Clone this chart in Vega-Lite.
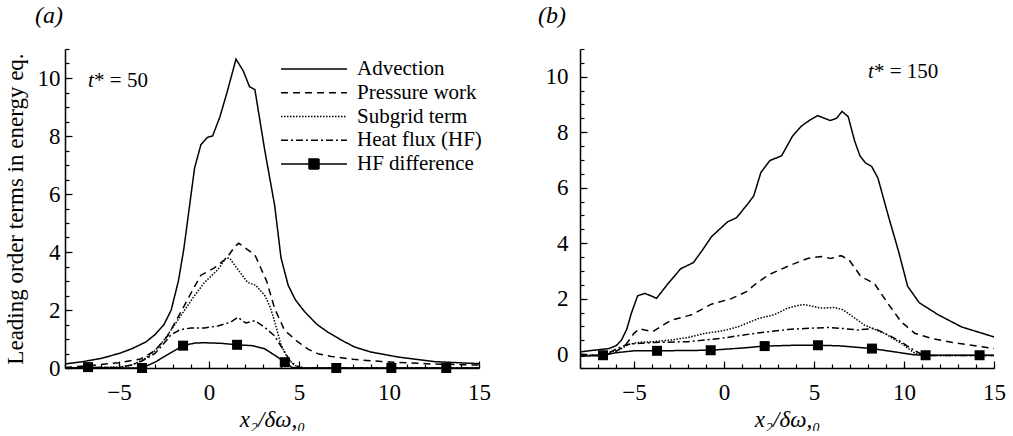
{
  "$schema": "https://vega.github.io/schema/vega-lite/v6.json",
  "background": "white",
  "padding": {"left": 4, "top": 4, "right": 0, "bottom": 0},
  "spacing": 47,
  "config": {
    "view": {"stroke": null},
    "font": "Liberation Serif",
    "axis": {
      "grid": false,
      "domainColor": "black",
      "domainWidth": 1.5,
      "tickColor": "black",
      "tickWidth": 1.2,
      "labelFont": "Liberation Serif",
      "labelFontSize": 23,
      "labelColor": "black",
      "labelFlush": false,
      "titleFont": "Liberation Serif",
      "titleFontSize": 23,
      "titleFontWeight": "normal",
      "titleColor": "black"
    },
    "title": {"font": "Liberation Serif", "fontSize": 24, "fontStyle": "italic", "fontWeight": "normal", "color": "black", "anchor": "start", "frame": "group"}
  },
  "resolve": {"scale": {"strokeDash": "independent"}, "legend": {"strokeDash": "independent"}},
  "datasets": {
    "a": [
      {"s":"Advection","x":-8,"y":0.14},{"s":"Advection","x":-7,"y":0.22},{"s":"Advection","x":-6,"y":0.33},{"s":"Advection","x":-5,"y":0.5},{"s":"Advection","x":-4.3,"y":0.66},{"s":"Advection","x":-3.5,"y":0.9},{"s":"Advection","x":-3,"y":1.15},{"s":"Advection","x":-2.5,"y":1.5},{"s":"Advection","x":-2.1,"y":2.0},{"s":"Advection","x":-1.7,"y":3.0},{"s":"Advection","x":-1.4,"y":4.1},{"s":"Advection","x":-1.1,"y":5.5},{"s":"Advection","x":-0.8,"y":6.9},{"s":"Advection","x":-0.45,"y":7.7},{"s":"Advection","x":-0.1,"y":7.95},{"s":"Advection","x":0.2,"y":8.0},{"s":"Advection","x":0.6,"y":8.65},{"s":"Advection","x":1.0,"y":9.5},{"s":"Advection","x":1.5,"y":10.65},{"s":"Advection","x":1.9,"y":10.25},{"s":"Advection","x":2.25,"y":9.7},{"s":"Advection","x":2.55,"y":9.6},{"s":"Advection","x":3.1,"y":7.5},{"s":"Advection","x":3.65,"y":5.6},{"s":"Advection","x":4.0,"y":3.8},{"s":"Advection","x":4.4,"y":2.85},{"s":"Advection","x":4.8,"y":2.35},{"s":"Advection","x":5.3,"y":1.95},{"s":"Advection","x":6.0,"y":1.5},{"s":"Advection","x":6.6,"y":1.24},{"s":"Advection","x":7.3,"y":0.98},{"s":"Advection","x":8.1,"y":0.72},{"s":"Advection","x":9.0,"y":0.55},{"s":"Advection","x":10.5,"y":0.38},{"s":"Advection","x":12.5,"y":0.22},{"s":"Advection","x":15,"y":0.15},
      {"s":"Pressure work","x":-8,"y":0.02},{"s":"Pressure work","x":-6.7,"y":0.08},{"s":"Pressure work","x":-5,"y":0.18},{"s":"Pressure work","x":-3.8,"y":0.31},{"s":"Pressure work","x":-3.0,"y":0.6},{"s":"Pressure work","x":-2.3,"y":1.1},{"s":"Pressure work","x":-1.5,"y":2.0},{"s":"Pressure work","x":-0.9,"y":2.7},{"s":"Pressure work","x":-0.45,"y":3.2},{"s":"Pressure work","x":0.3,"y":3.45},{"s":"Pressure work","x":1.0,"y":3.8},{"s":"Pressure work","x":1.45,"y":4.2},{"s":"Pressure work","x":1.65,"y":4.3},{"s":"Pressure work","x":2.1,"y":4.1},{"s":"Pressure work","x":2.55,"y":3.9},{"s":"Pressure work","x":3.2,"y":3.0},{"s":"Pressure work","x":3.65,"y":2.05},{"s":"Pressure work","x":4.2,"y":1.3},{"s":"Pressure work","x":4.9,"y":0.92},{"s":"Pressure work","x":5.5,"y":0.65},{"s":"Pressure work","x":6.1,"y":0.48},{"s":"Pressure work","x":6.8,"y":0.4},{"s":"Pressure work","x":8,"y":0.3},{"s":"Pressure work","x":9.6,"y":0.22},{"s":"Pressure work","x":12.3,"y":0.14},{"s":"Pressure work","x":15,"y":0.1},
      {"s":"Subgrid term","x":-8,"y":0},{"s":"Subgrid term","x":-5,"y":0.03},{"s":"Subgrid term","x":-4.3,"y":0.1},{"s":"Subgrid term","x":-3.6,"y":0.3},{"s":"Subgrid term","x":-3.0,"y":0.6},{"s":"Subgrid term","x":-2.45,"y":1.0},{"s":"Subgrid term","x":-1.9,"y":1.5},{"s":"Subgrid term","x":-1.35,"y":2.0},{"s":"Subgrid term","x":-0.8,"y":2.5},{"s":"Subgrid term","x":-0.25,"y":2.95},{"s":"Subgrid term","x":0.5,"y":3.4},{"s":"Subgrid term","x":0.95,"y":3.8},{"s":"Subgrid term","x":1.15,"y":3.78},{"s":"Subgrid term","x":1.6,"y":3.4},{"s":"Subgrid term","x":2.15,"y":2.95},{"s":"Subgrid term","x":2.6,"y":2.85},{"s":"Subgrid term","x":3.1,"y":2.5},{"s":"Subgrid term","x":3.4,"y":2.1},{"s":"Subgrid term","x":3.65,"y":1.6},{"s":"Subgrid term","x":4.0,"y":0.8},{"s":"Subgrid term","x":4.4,"y":0.3},{"s":"Subgrid term","x":4.8,"y":0.08},{"s":"Subgrid term","x":5.3,"y":0},{"s":"Subgrid term","x":15,"y":0},
      {"s":"Heat flux (HF)","x":-8,"y":0},{"s":"Heat flux (HF)","x":-5,"y":0.02},{"s":"Heat flux (HF)","x":-4.3,"y":0.1},{"s":"Heat flux (HF)","x":-3.7,"y":0.25},{"s":"Heat flux (HF)","x":-3.0,"y":0.5},{"s":"Heat flux (HF)","x":-2.5,"y":0.85},{"s":"Heat flux (HF)","x":-2.1,"y":1.15},{"s":"Heat flux (HF)","x":-1.6,"y":1.32},{"s":"Heat flux (HF)","x":-1.0,"y":1.38},{"s":"Heat flux (HF)","x":-0.25,"y":1.38},{"s":"Heat flux (HF)","x":0.5,"y":1.45},{"s":"Heat flux (HF)","x":1.2,"y":1.58},{"s":"Heat flux (HF)","x":1.6,"y":1.75},{"s":"Heat flux (HF)","x":2.05,"y":1.55},{"s":"Heat flux (HF)","x":2.55,"y":1.63},{"s":"Heat flux (HF)","x":3.1,"y":1.4},{"s":"Heat flux (HF)","x":3.65,"y":1.1},{"s":"Heat flux (HF)","x":4.2,"y":0.55},{"s":"Heat flux (HF)","x":4.55,"y":0.2},{"s":"Heat flux (HF)","x":5,"y":0.02},{"s":"Heat flux (HF)","x":5.5,"y":0},{"s":"Heat flux (HF)","x":15,"y":0},
      {"s":"HF difference","x":-8,"y":0},{"s":"HF difference","x":-6.72,"y":0.02},{"s":"HF difference","x":-4.5,"y":0},{"s":"HF difference","x":-3.72,"y":0},{"s":"HF difference","x":-3.0,"y":0.2},{"s":"HF difference","x":-2.2,"y":0.5},{"s":"HF difference","x":-1.44,"y":0.77},{"s":"HF difference","x":-0.8,"y":0.86},{"s":"HF difference","x":-0.25,"y":0.87},{"s":"HF difference","x":0.7,"y":0.85},{"s":"HF difference","x":1.56,"y":0.8},{"s":"HF difference","x":2.4,"y":0.77},{"s":"HF difference","x":3.1,"y":0.66},{"s":"HF difference","x":3.8,"y":0.38},{"s":"HF difference","x":4.21,"y":0.2},{"s":"HF difference","x":4.6,"y":0.02},{"s":"HF difference","x":5,"y":0},{"s":"HF difference","x":15,"y":0}
    ],
    "am": [
      {"x":-6.72,"y":0.03},{"x":-3.72,"y":0},{"x":-1.44,"y":0.77},{"x":1.56,"y":0.8},{"x":4.21,"y":0.2},{"x":7.07,"y":0},{"x":10.13,"y":0},{"x":13.18,"y":0}
    ],
    "b": [
      {"s":"Advection","x":-8,"y":0.08},{"s":"Advection","x":-7.5,"y":0.12},{"s":"Advection","x":-6.4,"y":0.2},{"s":"Advection","x":-6.0,"y":0.3},{"s":"Advection","x":-5.7,"y":0.5},{"s":"Advection","x":-5.4,"y":0.9},{"s":"Advection","x":-5.15,"y":1.47},{"s":"Advection","x":-4.8,"y":2.1},{"s":"Advection","x":-4.4,"y":2.19},{"s":"Advection","x":-4.05,"y":2.1},{"s":"Advection","x":-3.75,"y":2.01},{"s":"Advection","x":-3.1,"y":2.55},{"s":"Advection","x":-2.4,"y":3.08},{"s":"Advection","x":-1.7,"y":3.3},{"s":"Advection","x":-1.2,"y":3.75},{"s":"Advection","x":-0.7,"y":4.23},{"s":"Advection","x":0.2,"y":4.77},{"s":"Advection","x":0.7,"y":4.92},{"s":"Advection","x":1.3,"y":5.4},{"s":"Advection","x":1.65,"y":5.7},{"s":"Advection","x":2.05,"y":6.55},{"s":"Advection","x":2.55,"y":6.98},{"s":"Advection","x":3.2,"y":7.15},{"s":"Advection","x":3.8,"y":7.85},{"s":"Advection","x":4.3,"y":8.22},{"s":"Advection","x":4.8,"y":8.45},{"s":"Advection","x":5.2,"y":8.6},{"s":"Advection","x":5.9,"y":8.42},{"s":"Advection","x":6.25,"y":8.5},{"s":"Advection","x":6.56,"y":8.75},{"s":"Advection","x":6.9,"y":8.56},{"s":"Advection","x":7.25,"y":7.7},{"s":"Advection","x":7.55,"y":7.15},{"s":"Advection","x":7.85,"y":6.9},{"s":"Advection","x":8.2,"y":6.77},{"s":"Advection","x":8.55,"y":6.35},{"s":"Advection","x":9.1,"y":5.05},{"s":"Advection","x":9.7,"y":3.7},{"s":"Advection","x":10.2,"y":2.45},{"s":"Advection","x":10.85,"y":1.85},{"s":"Advection","x":11.9,"y":1.42},{"s":"Advection","x":13.2,"y":0.98},{"s":"Advection","x":15,"y":0.62},
      {"s":"Pressure work","x":-8,"y":0},{"s":"Pressure work","x":-7,"y":-0.05},{"s":"Pressure work","x":-6.6,"y":-0.03},{"s":"Pressure work","x":-6,"y":0.1},{"s":"Pressure work","x":-5.5,"y":0.3},{"s":"Pressure work","x":-5.0,"y":0.75},{"s":"Pressure work","x":-4.7,"y":0.92},{"s":"Pressure work","x":-4.4,"y":0.87},{"s":"Pressure work","x":-3.95,"y":0.81},{"s":"Pressure work","x":-3.3,"y":1.08},{"s":"Pressure work","x":-2.9,"y":1.23},{"s":"Pressure work","x":-1.8,"y":1.42},{"s":"Pressure work","x":-0.7,"y":1.8},{"s":"Pressure work","x":0.4,"y":2.0},{"s":"Pressure work","x":1.25,"y":2.25},{"s":"Pressure work","x":1.7,"y":2.5},{"s":"Pressure work","x":2.45,"y":2.85},{"s":"Pressure work","x":3.55,"y":3.17},{"s":"Pressure work","x":4.65,"y":3.45},{"s":"Pressure work","x":5.4,"y":3.52},{"s":"Pressure work","x":5.95,"y":3.45},{"s":"Pressure work","x":6.5,"y":3.55},{"s":"Pressure work","x":6.95,"y":3.4},{"s":"Pressure work","x":7.6,"y":2.8},{"s":"Pressure work","x":8.35,"y":2.55},{"s":"Pressure work","x":9.1,"y":1.83},{"s":"Pressure work","x":9.85,"y":1.16},{"s":"Pressure work","x":10.6,"y":0.75},{"s":"Pressure work","x":11.5,"y":0.57},{"s":"Pressure work","x":12.8,"y":0.41},{"s":"Pressure work","x":15,"y":0.2},
      {"s":"Subgrid term","x":-8,"y":-0.03},{"s":"Subgrid term","x":-7,"y":-0.05},{"s":"Subgrid term","x":-6.5,"y":0.02},{"s":"Subgrid term","x":-6,"y":0.12},{"s":"Subgrid term","x":-5.7,"y":0.2},{"s":"Subgrid term","x":-5.3,"y":0.35},{"s":"Subgrid term","x":-4.8,"y":0.42},{"s":"Subgrid term","x":-3.9,"y":0.45},{"s":"Subgrid term","x":-2.9,"y":0.51},{"s":"Subgrid term","x":-2,"y":0.6},{"s":"Subgrid term","x":-1.05,"y":0.75},{"s":"Subgrid term","x":0,"y":0.85},{"s":"Subgrid term","x":0.8,"y":0.99},{"s":"Subgrid term","x":1.9,"y":1.28},{"s":"Subgrid term","x":2.8,"y":1.42},{"s":"Subgrid term","x":3.5,"y":1.65},{"s":"Subgrid term","x":4.2,"y":1.77},{"s":"Subgrid term","x":4.5,"y":1.78},{"s":"Subgrid term","x":5.4,"y":1.66},{"s":"Subgrid term","x":6.15,"y":1.68},{"s":"Subgrid term","x":6.6,"y":1.6},{"s":"Subgrid term","x":6.9,"y":1.47},{"s":"Subgrid term","x":7.8,"y":1.05},{"s":"Subgrid term","x":8.9,"y":0.75},{"s":"Subgrid term","x":9.85,"y":0.39},{"s":"Subgrid term","x":10.6,"y":0.03},{"s":"Subgrid term","x":11.2,"y":-0.05},{"s":"Subgrid term","x":15,"y":-0.05},
      {"s":"Heat flux (HF)","x":-8,"y":-0.02},{"s":"Heat flux (HF)","x":-7,"y":-0.05},{"s":"Heat flux (HF)","x":-6.5,"y":0.02},{"s":"Heat flux (HF)","x":-6,"y":0.18},{"s":"Heat flux (HF)","x":-5.5,"y":0.32},{"s":"Heat flux (HF)","x":-5.15,"y":0.37},{"s":"Heat flux (HF)","x":-3.85,"y":0.42},{"s":"Heat flux (HF)","x":-2.0,"y":0.45},{"s":"Heat flux (HF)","x":-0.15,"y":0.57},{"s":"Heat flux (HF)","x":1.7,"y":0.75},{"s":"Heat flux (HF)","x":3.55,"y":0.89},{"s":"Heat flux (HF)","x":4.7,"y":0.93},{"s":"Heat flux (HF)","x":5.8,"y":0.96},{"s":"Heat flux (HF)","x":6.5,"y":0.93},{"s":"Heat flux (HF)","x":7.45,"y":0.87},{"s":"Heat flux (HF)","x":8.35,"y":0.93},{"s":"Heat flux (HF)","x":8.9,"y":0.76},{"s":"Heat flux (HF)","x":9.7,"y":0.5},{"s":"Heat flux (HF)","x":10.4,"y":0.2},{"s":"Heat flux (HF)","x":11.1,"y":-0.05},{"s":"Heat flux (HF)","x":15,"y":-0.05},
      {"s":"HF difference","x":-8,"y":-0.08},{"s":"HF difference","x":-7,"y":-0.05},{"s":"HF difference","x":-6.72,"y":-0.04},{"s":"HF difference","x":-6,"y":0.05},{"s":"HF difference","x":-5,"y":0.12},{"s":"HF difference","x":-3.72,"y":0.12},{"s":"HF difference","x":-0.74,"y":0.14},{"s":"HF difference","x":1,"y":0.22},{"s":"HF difference","x":2.26,"y":0.29},{"s":"HF difference","x":4,"y":0.32},{"s":"HF difference","x":5.22,"y":0.32},{"s":"HF difference","x":6.4,"y":0.3},{"s":"HF difference","x":8.22,"y":0.2},{"s":"HF difference","x":9.5,"y":0.08},{"s":"HF difference","x":10.5,"y":-0.02},{"s":"HF difference","x":11.2,"y":-0.04},{"s":"HF difference","x":15,"y":-0.04}
    ],
    "bm": [
      {"x":-6.72,"y":-0.04},{"x":-3.72,"y":0.12},{"x":-0.74,"y":0.14},{"x":2.26,"y":0.29},{"x":5.22,"y":0.32},{"x":8.22,"y":0.2},{"x":11.2,"y":-0.04},{"x":14.2,"y":-0.04}
    ],
    "an": [{"x":-6.72,"y":9.9,"pre":"t","post":"* = 50"}],
    "bn": [{"x":8.0,"y":10.17,"pre":"t","post":"* = 150"}]
  },
  "hconcat": [
    {
      "width": 414,
      "height": 319,
      "title": {"text": "(a)", "dx": -30, "offset": 20},
      "resolve": {"axis": {"x": "independent", "y": "independent"}},
      "layer": [
        {
          "data": {"name": "a"},
          "mark": {"type": "line", "color": "black", "strokeWidth": 1.5},
          "encoding": {
            "x": {"field": "x", "type": "quantitative", "scale": {"domain": [-8, 15], "nice": false, "zero": false},
                  "axis": {"orient": "bottom", "values": [-5, 0, 5, 10, 15], "tickSize": -7, "labelPadding": 20, "title": "x₂/δω,₀", "titleFontStyle": "italic", "titlePadding": 4}},
            "y": {"field": "y", "type": "quantitative", "scale": {"domain": [0, 11], "nice": false, "zero": false},
                  "axis": {"orient": "left", "values": [0, 2, 4, 6, 8, 10], "tickSize": -7, "labelPadding": 12, "title": "Leading order terms in energy eq.", "titlePadding": 10}},
            "strokeDash": {"field": "s", "type": "nominal",
              "scale": {"domain": ["Advection", "Pressure work", "Subgrid term", "Heat flux (HF)", "HF difference"], "range": [[1, 0], [7, 5], [1.5, 1.5], [7, 3, 2, 3], [1, 0]]},
              "legend": {"title": null, "orient": "none", "legendX": 215, "legendY": 9, "symbolSize": 400, "symbolStrokeWidth": 1.5, "symbolStrokeColor": "black", "labelFont": "Liberation Serif", "labelFontSize": 21, "labelColor": "black", "labelOffset": 55, "rowPadding": 2.75,
                "encode": {"symbols": {"update": {
                  "shape": {"signal": "datum.value === 'HF difference' ? 'M-1,0L5.6,0M1.8,-0.5L2.8,-0.5L2.8,0.5L1.8,0.5Z' : 'M-1,0L5.6,0'"},
                  "fill": {"value": "black"},
                  "stroke": {"value": "black"},
                  "strokeWidth": {"value": 1.5},
                  "opacity": {"value": 1},
                  "strokeDash": {"signal": "datum.value === 'Pressure work' ? [7,5] : datum.value === 'Subgrid term' ? [1.5,1.5] : datum.value === 'Heat flux (HF)' ? [7,3,2,3] : [1,0]"}
                }}}}
            }
          }
        },
        {
          "data": {"name": "am"},
          "mark": {"type": "point", "shape": "square", "filled": true, "color": "black", "size": 100, "opacity": 1},
          "encoding": {
            "x": {"field": "x", "type": "quantitative", "axis": {"orient": "bottom", "values": [-8,-7,-6,-5,-4,-3,-2,-1,0,1,2,3,4,5,6,7,8,9,10,11,12,13,14,15], "tickSize": -4, "labels": false, "domain": false, "title": null}},
            "y": {"field": "y", "type": "quantitative", "axis": {"orient": "left", "values": [0,0.5,1,1.5,2,2.5,3,3.5,4,4.5,5,5.5,6,6.5,7,7.5,8,8.5,9,9.5,10,10.5,11], "tickSize": -4, "labels": false, "domain": false, "title": null}}
          }
        },
        {
          "data": {"name": "an"},
          "mark": {"type": "text", "align": "left", "baseline": "middle", "font": "Liberation Serif", "fontSize": 21, "fontStyle": "italic", "color": "black"},
          "encoding": {"x": {"field": "x", "type": "quantitative", "axis": null}, "y": {"field": "y", "type": "quantitative", "axis": null}, "text": {"field": "pre"}}
        },
        {
          "data": {"name": "an"},
          "mark": {"type": "text", "align": "left", "baseline": "middle", "font": "Liberation Serif", "fontSize": 21, "color": "black", "dx": 6},
          "encoding": {"x": {"field": "x", "type": "quantitative", "axis": null}, "y": {"field": "y", "type": "quantitative", "axis": null}, "text": {"field": "post"}}
        }
      ]
    },
    {
      "width": 414,
      "height": 319,
      "title": {"text": "(b)", "dx": -42, "offset": 20},
      "resolve": {"axis": {"x": "independent", "y": "independent"}},
      "layer": [
        {
          "data": {"name": "b"},
          "mark": {"type": "line", "color": "black", "strokeWidth": 1.5},
          "encoding": {
            "x": {"field": "x", "type": "quantitative", "scale": {"domain": [-8, 15], "nice": false, "zero": false},
                  "axis": {"orient": "bottom", "values": [-5, 0, 5, 10, 15], "tickSize": -7, "labelPadding": 20, "title": "x₂/δω,₀", "titleFontStyle": "italic", "titlePadding": 4}},
            "y": {"field": "y", "type": "quantitative", "scale": {"domain": [-0.5, 11], "nice": false, "zero": false},
                  "axis": {"orient": "left", "values": [0, 2, 4, 6, 8, 10], "tickSize": -7, "labelPadding": 19, "title": null}},
            "strokeDash": {"field": "s", "type": "nominal",
              "scale": {"domain": ["Advection", "Pressure work", "Subgrid term", "Heat flux (HF)", "HF difference"], "range": [[1, 0], [7, 5], [1.5, 1.5], [7, 3, 2, 3], [1, 0]]},
              "legend": null}
          }
        },
        {
          "data": {"name": "bm"},
          "mark": {"type": "point", "shape": "square", "filled": true, "color": "black", "size": 100, "opacity": 1},
          "encoding": {
            "x": {"field": "x", "type": "quantitative", "axis": {"orient": "bottom", "values": [-8,-7,-6,-5,-4,-3,-2,-1,0,1,2,3,4,5,6,7,8,9,10,11,12,13,14,15], "tickSize": -4, "labels": false, "domain": false, "title": null}},
            "y": {"field": "y", "type": "quantitative", "axis": {"orient": "left", "values": [-0.5,0,0.5,1,1.5,2,2.5,3,3.5,4,4.5,5,5.5,6,6.5,7,7.5,8,8.5,9,9.5,10,10.5,11], "tickSize": -4, "labels": false, "domain": false, "title": null}}
          }
        },
        {
          "data": {"name": "bn"},
          "mark": {"type": "text", "align": "left", "baseline": "middle", "font": "Liberation Serif", "fontSize": 21, "fontStyle": "italic", "color": "black"},
          "encoding": {"x": {"field": "x", "type": "quantitative", "axis": null}, "y": {"field": "y", "type": "quantitative", "axis": null}, "text": {"field": "pre"}}
        },
        {
          "data": {"name": "bn"},
          "mark": {"type": "text", "align": "left", "baseline": "middle", "font": "Liberation Serif", "fontSize": 21, "color": "black", "dx": 6},
          "encoding": {"x": {"field": "x", "type": "quantitative", "axis": null}, "y": {"field": "y", "type": "quantitative", "axis": null}, "text": {"field": "post"}}
        }
      ]
    }
  ]
}
